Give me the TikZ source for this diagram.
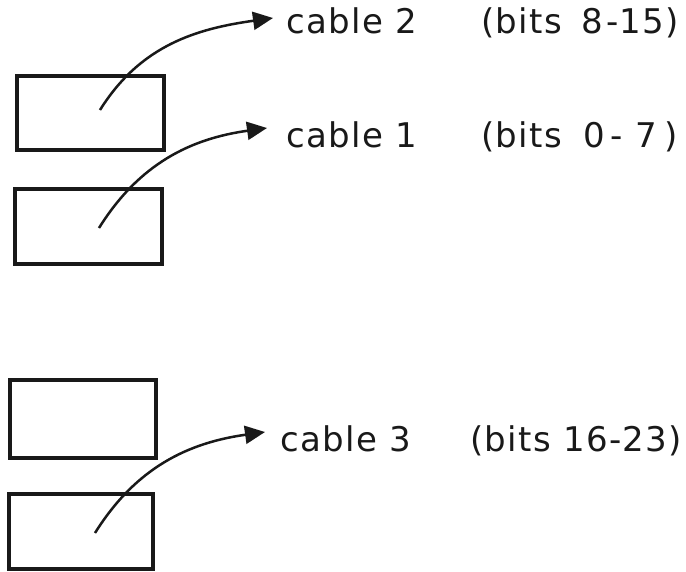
\documentclass[tikz,border=0pt]{standalone}
\usepackage{fontspec}
\setmainfont{DejaVu Sans}[LetterSpace=4]
\usetikzlibrary{arrows.meta}

\begin{document}
\begin{tikzpicture}[x=1pt,y=-1pt,
  regbox/.style={draw=black!90, line width=4pt, inner sep=0pt, minimum width=147pt, minimum height=74pt},
  lbl/.style={anchor=base west, inner sep=0pt, font=\fontsize{34}{40}\selectfont, text=black!90},
  cablearrow/.style={draw=black!90, line width=2.5pt, -{Triangle[length=20pt,width=18pt]}}]
\useasboundingbox (0,0) rectangle (686,571);

% register boxes
\node[regbox] (b1) at (90.5,113) {};
\node[regbox, minimum height=75pt] (b2) at (88.5,226.5) {};
\node[regbox, minimum width=146pt, minimum height=78pt] (b3) at (83,419) {};
\node[regbox, minimum width=144pt, minimum height=75pt] (b4) at (81,531.5) {};

% labels
\node[lbl] (c2) at (286,33) {cable 2};
\node[lbl] (r2) at (481,33) {(bits\hspace{20pt}8\hspace{3pt}-\hspace{1pt}15)};
\node[lbl] (c1) at (286,147) {cable 1};
\node[lbl] (r1) at (481,147) {(bits\hspace{22pt}0\hspace{5pt}-\hspace{13pt}7\hspace{7pt})};
\node[lbl] (c3) at (280,451) {cable 3};
\node[lbl] (r3) at (470,451) {(bits 16-23)};

% cable connections
\coordinate (s1) at (100,110);
\coordinate (t1) at (273,18);
\coordinate (s2) at (99,228);
\coordinate (t2) at (267,128);
\coordinate (s3) at (95,533);
\coordinate (t3) at (265,432);

\draw[cablearrow] (s1) to[out=58,in=188] (t1);
\draw[cablearrow] (s2) to[out=58,in=188] (t2);
\draw[cablearrow] (s3) to[out=58,in=188] (t3);
\end{tikzpicture}
\end{document}
